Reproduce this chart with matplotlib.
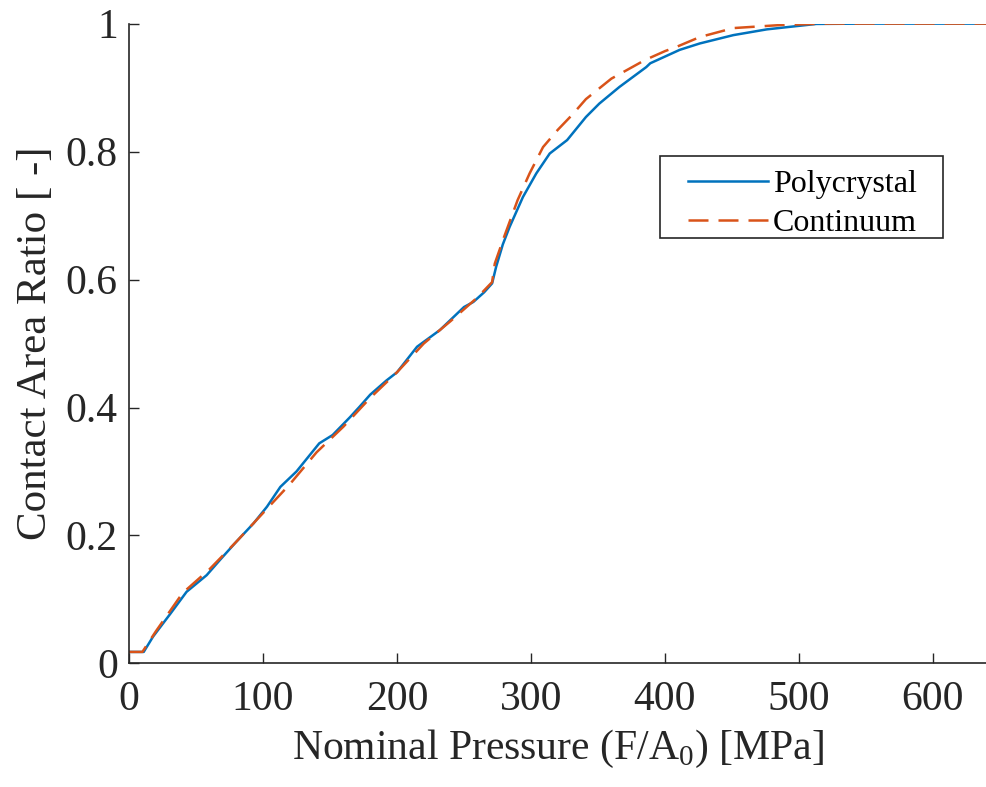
## Contact area ratio vs nominal pressure
## Polycrystal vs Continuum

import matplotlib
matplotlib.use('Agg')
import matplotlib.pyplot as plt
from matplotlib.patches import Rectangle

plt.rcParams['font.family'] = ['Liberation Serif', 'DejaVu Serif']
plt.rcParams['mathtext.fontset'] = 'custom'
plt.rcParams['mathtext.rm'] = 'Liberation Serif'

# data
poly_x = [0, 11, 18, 31, 43, 58, 68, 80, 93, 103, 113, 125, 142, 152, 165, 172,
          180, 192, 200, 215, 232, 250, 257, 265, 271, 274, 279, 284, 294, 304,
          314, 327, 341, 351, 366, 386, 389, 411, 426, 451, 476, 513, 550, 640]
poly_y = [0.018, 0.018, 0.042, 0.078, 0.112, 0.138, 0.162, 0.19, 0.219, 0.245,
          0.276, 0.30, 0.344, 0.357, 0.385, 0.401, 0.42, 0.442, 0.455, 0.495,
          0.521, 0.557, 0.565, 0.58, 0.594, 0.62, 0.655, 0.682, 0.729, 0.766,
          0.797, 0.818, 0.854, 0.875, 0.901, 0.932, 0.938, 0.959, 0.969, 0.982,
          0.991, 0.9995, 1.0, 1.0]

cont_x = [0, 10, 20, 40, 60, 80, 100, 120, 140, 160, 180, 200, 220, 240, 260,
          271, 273, 280, 290, 299, 309, 320, 331, 341, 360, 385, 400, 409, 426,
          451, 488, 520, 640]
cont_y = [0.018, 0.018, 0.05, 0.11, 0.147, 0.19, 0.235, 0.28, 0.33, 0.37, 0.415,
          0.455, 0.5, 0.535, 0.572, 0.596, 0.625, 0.667, 0.724, 0.766, 0.807,
          0.834, 0.858, 0.882, 0.914, 0.943, 0.957, 0.964, 0.979, 0.993, 0.998,
          1.0, 1.0]

xticks = [0, 100, 200, 300, 400, 500, 600]
yticks = [0, 0.2, 0.4, 0.6, 0.8, 1]
ytick_labels = ['0', '0.2', '0.4', '0.6', '0.8', '1']

gray = '#262626'

fig = plt.figure(figsize=(9.86, 7.87), dpi=100)
ax = fig.add_axes([0.1308, 0.157, 0.8698, 0.813])

ax.plot(poly_x, poly_y, color='#0072BD', lw=1.8, label='Polycrystal')
ax.plot(cont_x, cont_y, color='#D95319', lw=1.8, ls=(0, (8, 4)), label='Continuum')

ax.set_xlim(0, 640)
ax.set_ylim(0, 1)
ax.set_xticks(xticks)
ax.set_yticks(yticks)
ax.set_yticklabels(ytick_labels)

for s in ['top', 'right']:
    ax.spines[s].set_visible(False)
for s in ['left', 'bottom']:
    ax.spines[s].set_color(gray)
    ax.spines[s].set_linewidth(1.2)

ax.tick_params(direction='in', length=7, width=1, colors=gray,
               labelsize=30, labelcolor=gray, pad=8)
ax.tick_params(axis='x', pad=12)

ax.set_xlabel('Nominal Pressure (F/A$_0$) [MPa]', fontsize=30, color=gray, labelpad=7)
ax.set_ylabel('Contact Area Ratio [ -]', fontsize=31, color=gray, labelpad=8)

# legend without its own frame, box drawn separately (MATLAB style padding)
leg = ax.legend(loc='upper left', bbox_to_anchor=(0.652, 0.772), fontsize=23,
                frameon=False, handlelength=2.5, handletextpad=0.15,
                borderpad=0, borderaxespad=0, labelspacing=0.3)
ax.add_patch(Rectangle((0.619, 0.665), 0.330, 0.128, transform=ax.transAxes,
                       fill=False, edgecolor=gray, linewidth=1.2, zorder=5))

plt.savefig('out.png', dpi=100)
plt.close()
